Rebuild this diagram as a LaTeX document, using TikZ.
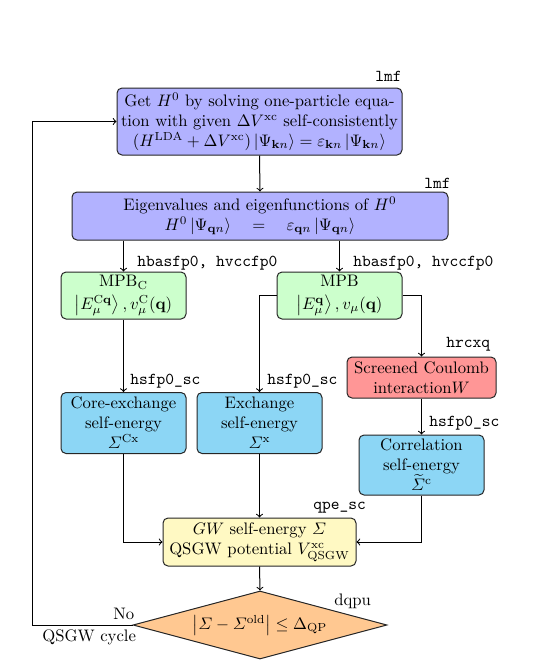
\documentclass[tikz,border=0pt]{standalone}
\usepackage{amsmath}
\usetikzlibrary{shapes.geometric,calc}
\definecolor{cLav}{RGB}{178,178,255}
\definecolor{cGreen}{RGB}{204,255,204}
\definecolor{cBlue}{RGB}{140,214,245}
\definecolor{cRed}{RGB}{255,150,150}
\definecolor{cYellow}{RGB}{255,249,195}
\definecolor{cOrange}{RGB}{255,200,145}
\tikzset{
  box/.style={draw=black!85, rounded corners=3pt, align=center, inner sep=2pt, line width=0.6pt},
  tag/.style={anchor=west, inner sep=0pt, font=\ttfamily},
  rtag/.style={anchor=west, inner sep=0pt},
  conn/.style={->, line width=0.6pt, draw=black},
}
\begin{document}
\begin{tikzpicture}[x=0.6pt,y=-0.6pt]
\useasboundingbox (0,0) rectangle (544,668);
\node[box, fill=cLav, minimum width=171pt, minimum height=40.2pt] (box1) at (259.5,121.5)
  {Get $H^0$ by solving one-particle equa-\\tion with given $\Delta V^{\mathrm{xc}}$ self-consistently\\$(H^{\mathrm{LDA}}+\Delta V^{\mathrm{xc}})\left|\Psi_{\mathbf{k}n}\right\rangle = \varepsilon_{\mathbf{k}n}\left|\Psi_{\mathbf{k}n}\right\rangle$};
\node[box, fill=cLav, minimum width=225.6pt, minimum height=28.8pt] (box2) at (260,216)
  {Eigenvalues and eigenfunctions of $H^0$\\$H^0\left|\Psi_{\mathbf{q}n}\right\rangle\quad=\quad\varepsilon_{\mathbf{q}n}\left|\Psi_{\mathbf{q}n}\right\rangle$};
\node[box, fill=cGreen, minimum width=75pt, minimum height=28.2pt] (mpbc) at (123.5,295.5)
  {MPB$_{\mathrm{C}}$\\[1.5pt]$\left|E_\mu^{\mathrm{C}\mathbf{q}}\right\rangle, v_\mu^{\mathrm{C}}(\mathbf{q})$};
\node[box, fill=cGreen, minimum width=75pt, minimum height=28.2pt] (mpb) at (339.5,295.5)
  {MPB\\[1.5pt]$\left|E_\mu^{\mathbf{q}}\right\rangle, v_\mu(\mathbf{q})$};
\node[box, fill=cBlue, minimum width=75pt, minimum height=36.6pt] (core) at (123.5,423)
  {Core-exchange\\self-energy\\$\varSigma^{\mathrm{Cx}}$};
\node[box, fill=cBlue, minimum width=75pt, minimum height=36.6pt] (exch) at (259.5,423)
  {Exchange\\self-energy\\$\varSigma^{\mathrm{x}}$};
\node[box, fill=cRed, minimum width=89.4pt, minimum height=24.6pt] (scr) at (421.5,377.5)
  {Screened Coulomb\\interaction$W$};
\node[box, fill=cBlue, minimum width=75pt, minimum height=36pt] (corr) at (421.5,465)
  {Correlation\\self-energy\\$\widetilde{\varSigma}^{\mathrm{c}}$};
\node[box, fill=cYellow, minimum width=115.8pt, minimum height=28.8pt] (gw) at (259.5,542)
  {$GW$ self-energy $\varSigma$\\QSGW potential $V^{\mathrm{xc}}_{\mathrm{QSGW}}$};
\node[diamond, aspect=3.7, draw=black!85, fill=cOrange, line width=0.6pt, inner sep=0pt, minimum width=152.4pt, minimum height=40.8pt] (dia) at (260,625)
  {$\left|\varSigma-\varSigma^{\mathrm{old}}\right|\leq\Delta_{\mathrm{QP}}$};
% labels
\node[tag] (l1) at (375,76) {lmf};
\node[tag] (l2) at (424,183) {lmf};
\node[tag] (l3) at (137,263) {hbasfp0, hvccfp0};
\node[tag] (l4) at (353,263) {hbasfp0, hvccfp0};
\node[tag] (l5) at (130,381) {hsfp0\_sc};
\node[tag] (l6) at (267,381) {hsfp0\_sc};
\node[tag] (l7) at (446,344) {hrcxq};
\node[tag] (l8) at (429,423) {hsfp0\_sc};
\node[tag] (l9) at (313,508) {qpe\_sc};
\node[rtag] (l10) at (334,601) {dqpu};
\node[rtag] (l11) at (113,614) {No};
\node[rtag] (l12) at (42,637) {QSGW cycle};
% connectors
\coordinate (loop) at (32,625);
\draw[conn] (box1.south) -- (box2.north);
\draw[conn] (mpbc.north |- box2.south) -- (mpbc.north);
\draw[conn] (mpb.north |- box2.south) -- (mpb.north);
\draw[conn] (mpbc.south) -- (core.north);
\draw[conn] (mpb.west) -| (exch.north);
\draw[conn] (mpb.east) -| (scr.north);
\draw[conn] (scr.south) -- (corr.north);
\draw[conn] (core.south) |- (gw.west);
\draw[conn] (exch.south) -- (gw.north);
\draw[conn] (corr.south) |- (gw.east);
\draw[conn] (gw.south) -- (dia.north);
\draw[conn] (dia.west) -- (loop) |- (box1.west);
\end{tikzpicture}
\end{document}
